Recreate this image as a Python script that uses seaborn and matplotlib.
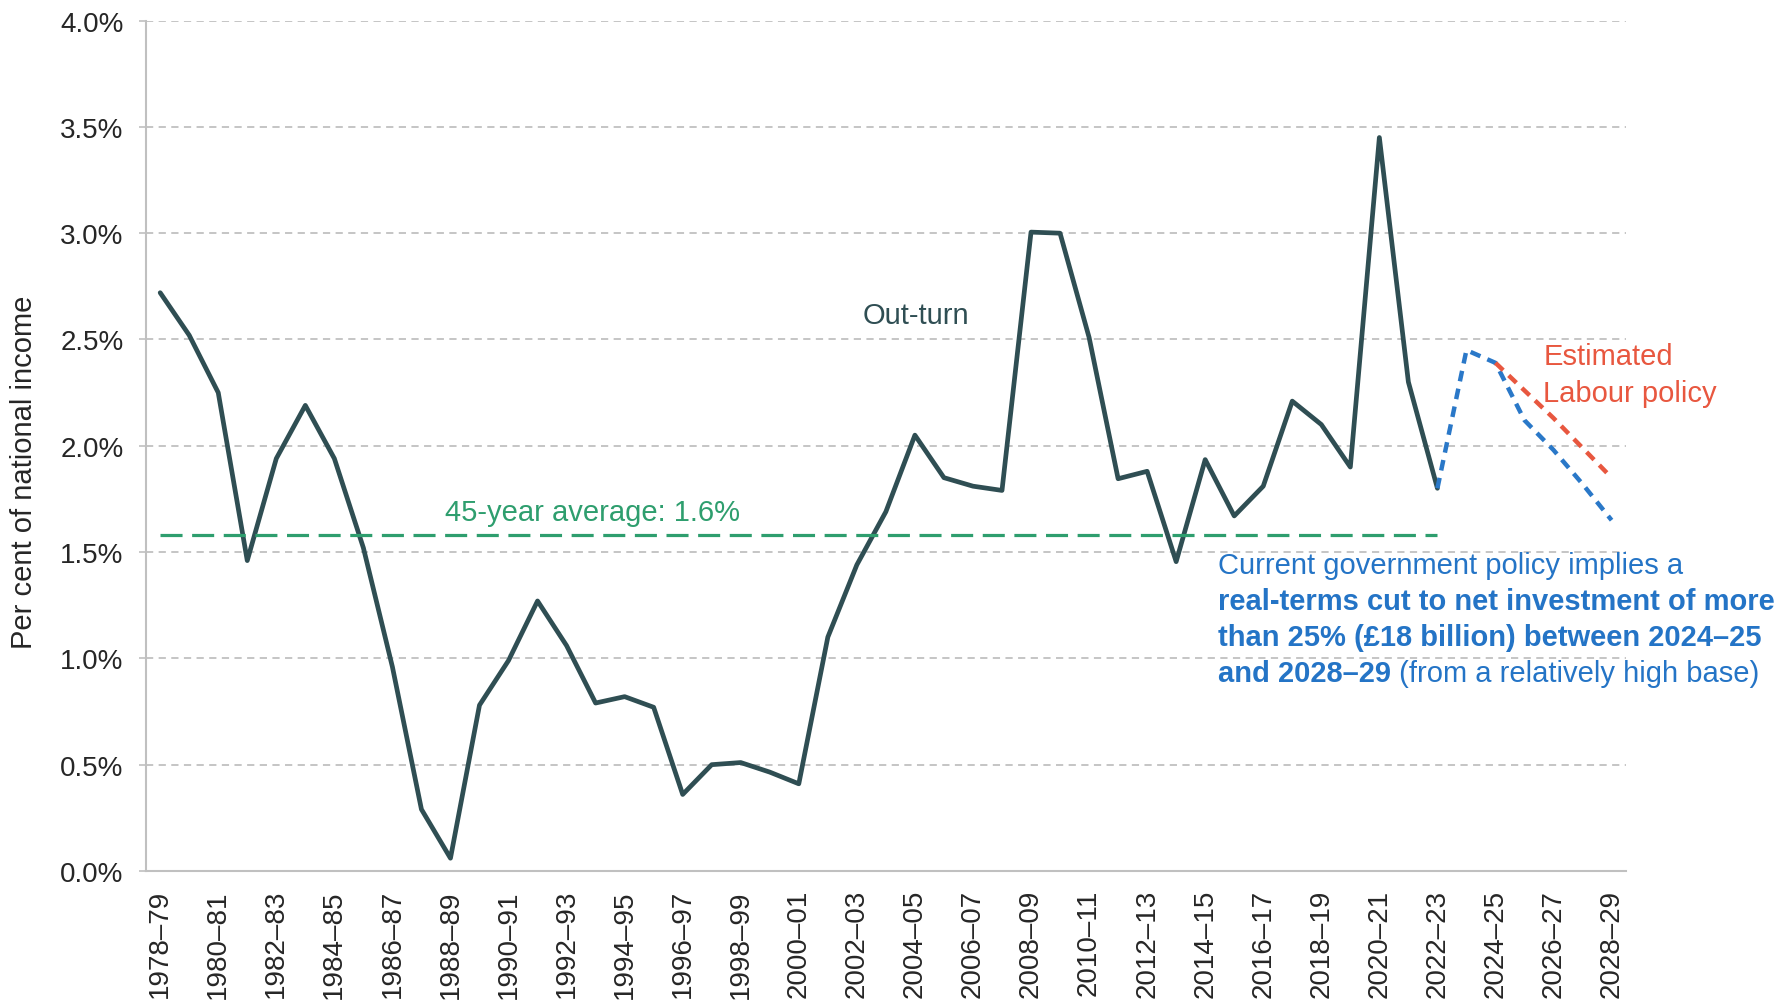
import matplotlib
matplotlib.use('Agg')
import matplotlib.pyplot as plt
import seaborn as sns
import pandas as pd

sns.set_style('white')
plt.rcParams['font.family'] = ['Liberation Sans', 'DejaVu Sans']

# ---- data (per cent of national income) ----
years = [f"{y}\u2013{(y + 1) % 100:02d}" for y in range(1978, 2029)]
outturn = [2.72, 2.52, 2.25, 1.46, 1.94, 2.19, 1.94, 1.52, 0.96, 0.29,
           0.06, 0.78, 0.99, 1.27, 1.06, 0.79, 0.82, 0.77, 0.36, 0.50,
           0.51, 0.465, 0.41, 1.10, 1.44, 1.69, 2.05, 1.85, 1.81, 1.79,
           3.005, 3.00, 2.51, 1.845, 1.88, 1.455, 1.935, 1.67, 1.81, 2.21,
           2.10, 1.90, 3.45, 2.30, 1.80]
forecast_years = years[44:]
forecast = [1.80, 2.45, 2.39, 2.12, 1.98, 1.82, 1.65]
labour_years = years[46:]
labour = [2.39, 2.26, 2.13, 1.99, 1.85]
average = 1.58

DARK = '#2F4E53'
BLUE = '#2A78C8'
RED = '#E8573F'
GREEN = '#2E9E6E'
GRID = '#C0C0C0'
TXT = '#2474C6'

pos = {y: i for i, y in enumerate(years)}
df_out = pd.DataFrame({'x': [pos[y] for y in years[:len(outturn)]], 'value': outturn})
df_fc = pd.DataFrame({'x': [pos[y] for y in forecast_years], 'value': forecast})
df_lab = pd.DataFrame({'x': [pos[y] for y in labour_years], 'value': labour})
df_avg = pd.DataFrame({'x': [0, len(outturn) - 1], 'value': [average, average]})

fig = plt.figure(figsize=(17.83, 10.04), dpi=100)
ax = fig.add_axes([0.0817, 0.1315, 0.8303, 0.847])

sns.lineplot(data=df_out, x='x', y='value', color=DARK, lw=3.4, ax=ax, zorder=3)
sns.lineplot(data=df_fc, x='x', y='value', color=BLUE, lw=3.2,
             linestyle=(0, (2.4, 1.7)), ax=ax, zorder=3)
sns.lineplot(data=df_lab, x='x', y='value', color=RED, lw=3.2,
             linestyle=(0, (2.4, 1.7)), ax=ax, zorder=4)
sns.lineplot(data=df_avg, x='x', y='value', color=GREEN, lw=2.3,
             linestyle=(0, (6.9, 3.0)), ax=ax, zorder=4)

# ---- axes ----
ax.set_xlim(-0.5, len(years) - 0.5)
ax.set_ylim(0, 4)
yt = [i * 0.5 for i in range(9)]
ax.set_yticks(yt)
ax.set_yticklabels([f"{v:.1f}%" for v in yt], fontsize=20)
ax.set_xticks(range(0, len(years), 2))
ax.set_xticklabels(years[::2], rotation=90, fontsize=20)
ax.set_xticks([i - 0.5 for i in range(len(years) + 1)], minor=True)
ax.tick_params(axis='x', which='major', length=0, pad=13)
ax.tick_params(axis='x', which='minor', length=6, width=1.2, color=GRID, direction='out')
ax.tick_params(axis='y', length=5, width=1.2, color=GRID, pad=11, left=True)
ax.yaxis.grid(True, linestyle=(0, (4, 3)), color=GRID, lw=1.3)
ax.set_axisbelow(True)
for s in ['top', 'right']:
    ax.spines[s].set_visible(False)
for s in ['left', 'bottom']:
    ax.spines[s].set_color(GRID)
    ax.spines[s].set_linewidth(1.5)

ax.set_xlabel('')
ax.set_ylabel('Per cent of national income', fontsize=21)
ax.yaxis.set_label_coords(-0.073, 0.47)

# ---- annotations ----
FS = 21
ax.text(26.05, 2.615, 'Out-turn', color=DARK, fontsize=FS, ha='center', va='center')
ax.text(14.9, 1.69, '45-year average: 1.6%', color=GREEN, fontsize=FS,
        ha='center', va='center')
ax.text(47.65, 2.42, 'Estimated', color=RED, fontsize=FS, ha='left', va='center')
ax.text(47.65, 2.25, 'Labour policy', color=RED, fontsize=FS, ha='left', va='center')

ax.text(36.45, 1.438, 'Current government policy implies a', color=TXT,
        fontsize=FS, ha='left', va='center')
ax.text(36.45, 1.268, 'real-terms cut to net investment of more', color=TXT,
        fontsize=FS, ha='left', va='center', fontweight='bold')
ax.text(36.45, 1.100, 'than 25% (\u00a318 billion) between 2024\u201325', color=TXT,
        fontsize=FS, ha='left', va='center', fontweight='bold')
t4 = ax.text(36.45, 0.932, 'and 2028\u201329', color=TXT,
             fontsize=FS, ha='left', va='center', fontweight='bold')
ax.annotate(' (from a relatively high base)', xy=(1, 0.5), xycoords=t4,
            color=TXT, fontsize=FS, ha='left', va='center')

fig.savefig('out.png', dpi=100)
